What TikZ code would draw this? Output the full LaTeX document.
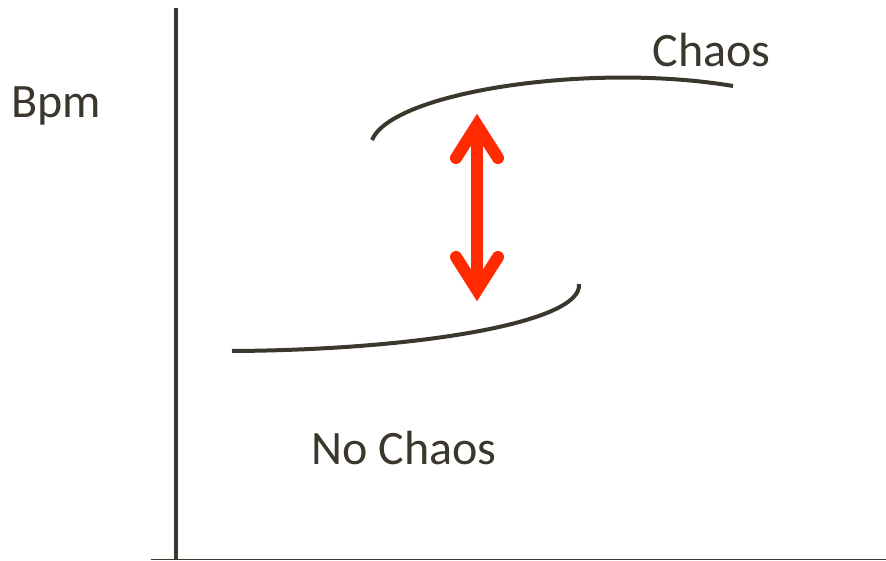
\documentclass[tikz,border=0pt]{standalone}
\usepackage{fontspec}
\setmainfont{Carlito}
\definecolor{ink}{HTML}{3B372D}
\definecolor{hot}{HTML}{FF2A00}
\tikzset{
  lbl/.style={inner sep=0pt, anchor=base, text=ink, font=\fontsize{48}{52}\selectfont},
  axisline/.style={draw=ink},
  curveline/.style={draw=ink, line width=4pt, line cap=butt},
  shaft/.style={draw=hot, line width=12pt},
  headline/.style={draw=hot, line width=12pt, line cap=round, line join=miter, miter limit=10},
}
\begin{document}
\begin{tikzpicture}[x=1pt,y=-1pt]
\useasboundingbox (0,0) rectangle (886,561);
% axes
\coordinate (ytop) at (175.5,8);
\coordinate (origin) at (175.5,559.5);
\coordinate (xleft) at (151,559.5);
\coordinate (xright) at (886,559.5);
\draw[axisline, line width=4pt] (ytop) -- (origin);
\draw[axisline, line width=1.6pt] (xleft) -- (xright);
% branches
\coordinate (u0) at (372,140);
\coordinate (u1) at (733,86);
\draw[curveline] (u0) .. controls (392,92) and (590,62) .. (u1);
\coordinate (l0) at (232,351);
\coordinate (l1) at (579,284);
\draw[curveline] (l0) .. controls (420,350) and (583,322) .. (l1);
% double arrow
\coordinate (atop) at (477,125);
\coordinate (abot) at (477,290);
\draw[shaft] (atop) -- (abot);
\draw[headline] ([xshift=-21pt,yshift=-33pt]atop) -- (atop) -- ([xshift=21pt,yshift=-33pt]atop);
\draw[headline] ([xshift=-21pt,yshift=33pt]abot) -- (abot) -- ([xshift=21pt,yshift=33pt]abot);
% labels
\node[lbl] (bpm) at (56,118) {Bpm};
\node[lbl] (chaos) at (711.5,67) {Chaos};
\node[lbl] (nochaos) at (404,464) {No Chaos};
\end{tikzpicture}
\end{document}
